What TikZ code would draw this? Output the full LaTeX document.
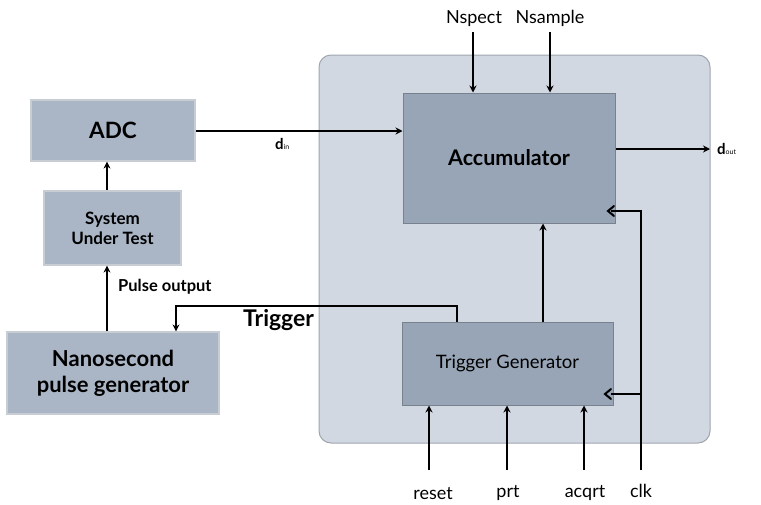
\documentclass[tikz,border=0pt]{standalone}
\usepackage{fontspec}
\setmainfont{Lato}
\usetikzlibrary{arrows.meta}
\definecolor{cont}{RGB}{210,216,225}
\definecolor{contb}{RGB}{160,166,174}
\definecolor{blk}{RGB}{170,182,198}
\definecolor{blkb}{RGB}{200,205,212}
\definecolor{inner}{RGB}{152,165,182}
\definecolor{innerb}{RGB}{120,130,142}
\begin{document}
\begin{tikzpicture}[x=1pt,y=-1pt,
  box/.style={draw=blkb,fill=blk,line width=1.2pt,inner sep=0pt},
  ibox/.style={draw=innerb,fill=inner,line width=1pt,inner sep=0pt},
  wire/.style={line width=2pt,-{Stealth[length=7pt,width=7pt]}},
  plain/.style={line width=2pt},
  chev/.style={line width=2pt,line cap=round,line join=miter},
  lbl/.style={font=\fontsize{18}{20}\selectfont,inner sep=0pt}]
\useasboundingbox (0,0) rectangle (761,504);
% container
\draw[fill=cont,draw=contb,line width=1pt,rounded corners=12pt] (319,55) rectangle (710,443);
% boxes
\node[box,minimum width=164pt,minimum height=61pt,font=\fontsize{22.5}{24}\selectfont\bfseries] (adc) at (113,130.5) {ADC};
\node[box,minimum width=137pt,minimum height=74pt,align=center,font=\fontsize{17}{20}\selectfont\bfseries] (sut) at (112.5,228) {System\\Under Test};
\node[box,minimum width=212pt,minimum height=82pt,align=center,font=\fontsize{22}{26}\selectfont\bfseries] (ns) at (113,373) {Nanosecond\\pulse generator};
\node[ibox,minimum width=212pt,minimum height=130pt,font=\fontsize{21.5}{24}\selectfont\bfseries] (acc) at (509,158) {Accumulator};
\node[ibox,minimum width=211pt,minimum height=83pt,font=\fontsize{18.5}{21}\selectfont] (tg) at (507.5,363.5) {Trigger Generator};
% labels
\node[lbl,anchor=base] (nspect) at (474,23) {Nspect};
\node[lbl,anchor=base] (nsample) at (550,23) {Nsample};
\node[lbl,anchor=base] (reset) at (433,499) {reset};
\node[lbl,anchor=base] (prt) at (508,497) {prt};
\node[lbl,anchor=base] (acqrt) at (585,497) {acqrt};
\node[lbl,anchor=base] (clk) at (641,497) {clk};
\node[anchor=base west,inner sep=0pt] (dout) at (717,154) {\fontsize{15}{17}\selectfont\bfseries d\fontsize{7}{8}\selectfont\mdseries out};
\node[anchor=base west,inner sep=0pt] (din) at (275,149.5) {\fontsize{15}{17}\selectfont\bfseries d\fontsize{7}{8}\selectfont\mdseries in};
\node[anchor=base west,inner sep=0pt,font=\fontsize{16.5}{18}\selectfont\bfseries] (po) at (118,291) {Pulse output};
\node[anchor=base west,inner sep=0pt,font=\fontsize{23}{26}\selectfont\bfseries] (trg) at (243,326) {Trigger};
% coordinates
\coordinate (nsp) at (473,32);
\coordinate (nsa) at (550,32);
\coordinate (rs) at (429,470);
\coordinate (pr) at (507,470);
\coordinate (aq) at (584,470);
\coordinate (ck) at (641,470);
\coordinate (ckt) at (641,211);
\coordinate (ckb) at (641,394);
\coordinate (doe) at (710,149);
% wires
\draw[wire] (adc.east |- 0,131) -- (acc.west |- 0,131);
\draw[wire] (nsp) -- (nsp |- acc.north);
\draw[wire] (nsa) -- (nsa |- acc.north);
\draw[wire] (acc.east |- doe) -- (doe);
\draw[wire] (tg.north -| 543,0) -- (acc.south -| 543,0);
\draw[wire] (tg.north -| 457,0) |- (176,306) -- (ns.north -| 176,0);
\draw[wire] (ns.north -| 107,0) -- (sut.south -| 107,0);
\draw[wire] (sut.north -| 107,0) -- (adc.south -| 107,0);
\draw[wire] (rs) -- (rs |- tg.south);
\draw[wire] (pr) -- (pr |- tg.south);
\draw[wire] (aq) -- (aq |- tg.south);
\draw[plain] (ck) -- (ckt) -- (611,211);
\draw[plain] (ckb) -- (611,394);
\draw[chev] (614,206) -- (608,211) -- (614,216);
\draw[chev] (611,389) -- (605,394) -- (611,399);
\end{tikzpicture}
\end{document}
